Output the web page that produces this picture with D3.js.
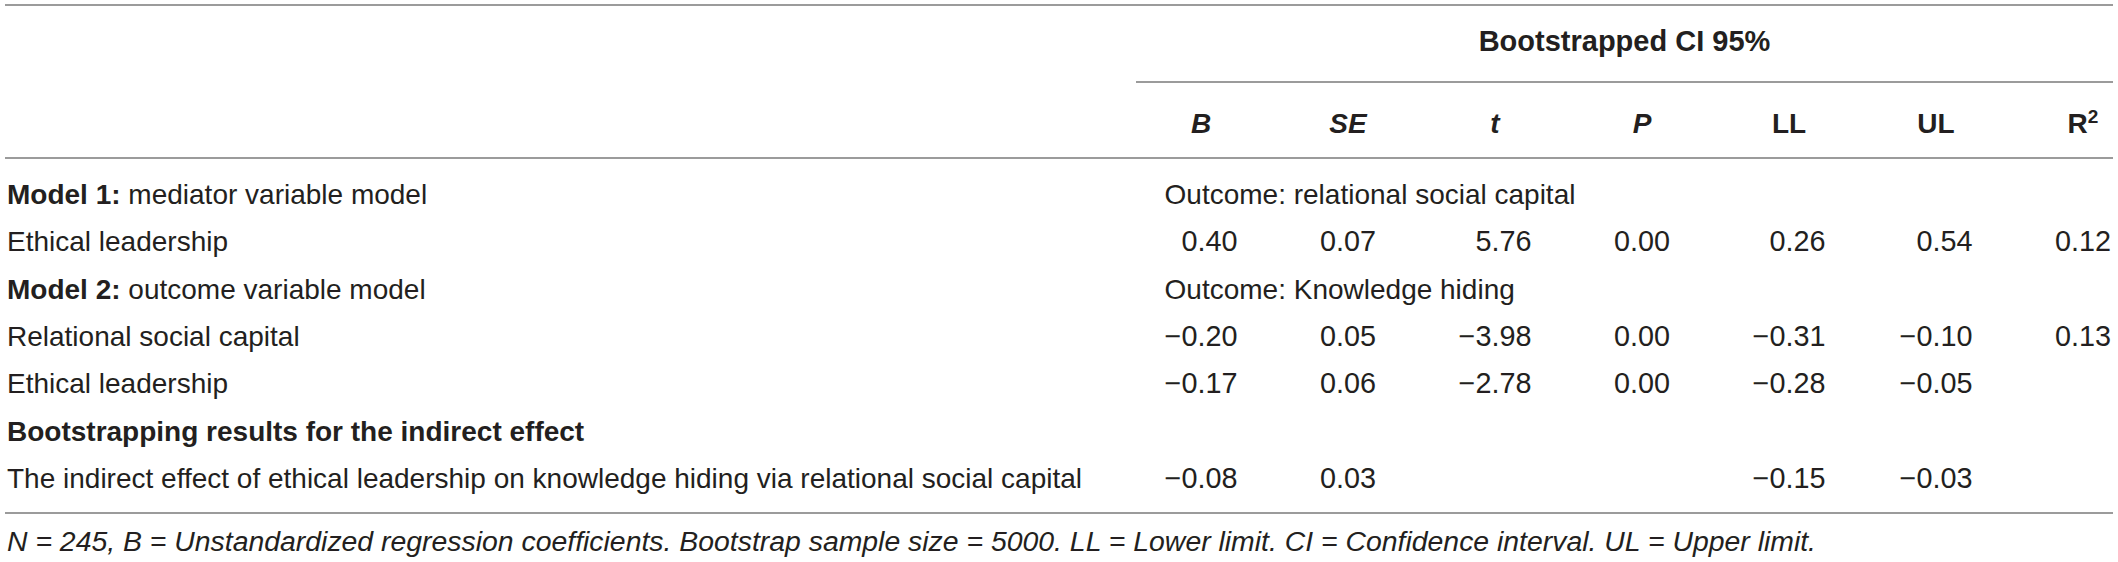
<!DOCTYPE html>
<html>
<head>
<meta charset="utf-8">
<title>Mediation results</title>
<style>
  body { margin: 0; background: #fff; }
  text { font-family: "Liberation Sans", Arial, sans-serif; font-size: 28px; fill: #231f20; }
  .num { font-size: 28.8px; }
  .note { font-size: 28.4px; font-style: italic; }
  .rule { stroke: #7a7a7a; stroke-width: 1.5; }
</style>
</head>
<body>
<svg width="2118" height="562"></svg>
<script src="https://d3js.org/d3.v7.min.js"></script>
<script>
// table content
const colHeads = ['B', 'SE', 't', 'P', 'LL', 'UL', 'R2'];
const italicHeads = ['B', 'SE', 't', 'P'];
const spanHead = 'Bootstrapped CI 95%';

const rowBold = ['Model 1:', '', 'Model 2:', '', '', 'Bootstrapping results for the indirect effect', ''];
const rowText = [' mediator variable model', 'Ethical leadership', ' outcome variable model',
  'Relational social capital', 'Ethical leadership', '',
  'The indirect effect of ethical leadership on knowledge hiding via relational social capital'];
const outcomes = ['Outcome: relational social capital', null, 'Outcome: Knowledge hiding', null, null, null, null];

const valB  = [null, 0.40, null, -0.20, -0.17, null, -0.08];
const valSE = [null, 0.07, null, 0.05, 0.06, null, 0.03];
const valT  = [null, 5.76, null, -3.98, -2.78, null, null];
const valP  = [null, 0.00, null, 0.00, 0.00, null, null];
const valLL = [null, 0.26, null, -0.31, -0.28, null, -0.15];
const valUL = [null, 0.54, null, -0.10, -0.05, null, -0.03];
const valR2 = [null, 0.12, null, 0.13, null, null, null];

const footnote = 'N = 245, B = Unstandardized regression coefficients. Bootstrap sample size = 5000. LL = Lower limit. CI = Confidence interval. UL = Upper limit.';

const columns = [valB, valSE, valT, valP, valLL, valUL, valR2];

const svg = d3.select('svg');
const left = 5, right = 2113, spanLeft = 1136;
const fmt = d3.format('.2f');

const x = d3.scalePoint().domain(colHeads).range([1201, 2083]);
const y = d3.scalePoint().domain(d3.range(rowText.length)).range([204, 488]);

// horizontal rules
const rules = [
  {x1: left, x2: right, y: 5},
  {x1: spanLeft, x2: right, y: 82},
  {x1: left, x2: right, y: 158},
  {x1: left, x2: right, y: 513}
];
svg.selectAll('line.rule').data(rules).enter().append('line')
  .attr('class', 'rule')
  .attr('x1', d => d.x1).attr('x2', d => d.x2)
  .attr('y1', d => d.y).attr('y2', d => d.y);

// spanning header
svg.append('text')
  .attr('x', (spanLeft + right) / 2).attr('y', 51)
  .attr('text-anchor', 'middle')
  .style('font-weight', 'bold')
  .style('font-size', '29px')
  .text(spanHead);

// column headers
const heads = svg.selectAll('text.head').data(colHeads).enter().append('text')
  .attr('class', 'head')
  .attr('x', d => x(d)).attr('y', 133)
  .attr('text-anchor', 'middle')
  .style('font-weight', 'bold')
  .style('font-style', d => italicHeads.includes(d) ? 'italic' : 'normal');
heads.each(function(d) {
  const t = d3.select(this);
  if (d === 'R2') {
    t.append('tspan').text('R');
    t.append('tspan').attr('dy', -10).style('font-size', '19px').text('2');
  } else {
    t.text(d);
  }
});

// row labels
const labels = svg.selectAll('text.label').data(rowText).enter().append('text')
  .attr('class', 'label')
  .attr('x', 7).attr('y', (d, i) => y(i));
labels.append('tspan').style('font-weight', 'bold').text((d, i) => rowBold[i]);
labels.append('tspan').text(d => d);

// numeric cells: right aligned, widest entry centred on the column
let bLeft = 0;
const g = svg.append('g');
columns.forEach((vals, ci) => {
  const cells = g.append('g').selectAll('text')
    .data(vals.map((v, ri) => ({v, ri})).filter(d => d.v !== null))
    .enter().append('text')
    .attr('class', 'num')
    .attr('y', d => y(d.ri))
    .attr('text-anchor', 'end')
    .text(d => fmt(d.v));
  let maxW = 0;
  cells.each(function() { maxW = Math.max(maxW, this.getComputedTextLength()); });
  cells.attr('x', x(colHeads[ci]) + maxW / 2);
  if (ci === 0) bLeft = x(colHeads[ci]) - maxW / 2;
});

// outcome lines start at the left edge of the B column
svg.selectAll('text.outcome').data(outcomes.map((o, i) => ({o, i})).filter(d => d.o))
  .enter().append('text')
  .attr('class', 'outcome')
  .attr('x', bLeft).attr('y', d => y(d.i))
  .text(d => d.o);

// footnote
svg.append('text')
  .attr('class', 'note')
  .attr('x', 7).attr('y', 551)
  .text(footnote);
</script>
</body>
</html>
